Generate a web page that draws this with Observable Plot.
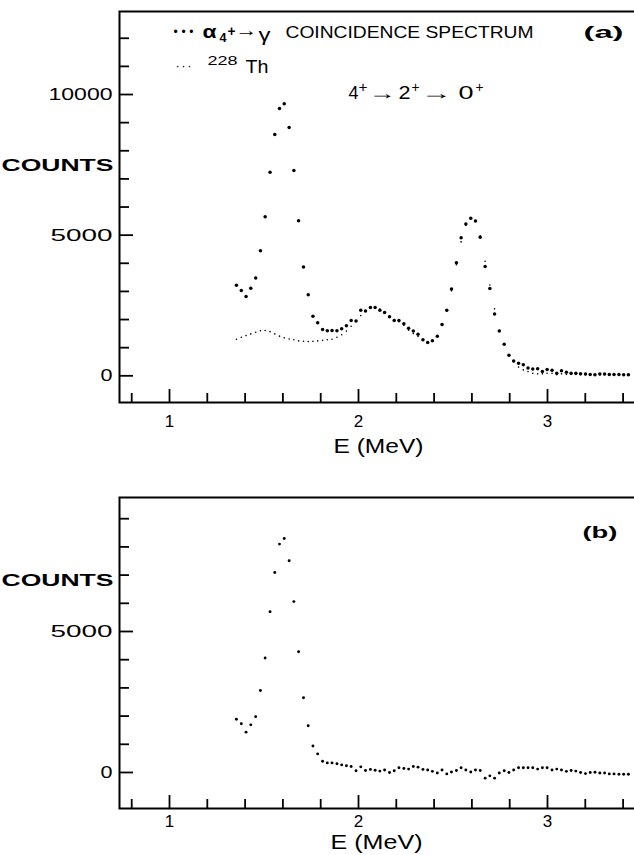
<!DOCTYPE html>
<html><head><meta charset="utf-8">
<script src="https://cdn.jsdelivr.net/npm/d3@7"></script>
<script src="https://cdn.jsdelivr.net/npm/@observablehq/plot@0.6"></script>
<style>
html,body{margin:0;padding:0;background:#fff;}
#chart{width:634px;height:855px;position:relative;overflow:hidden;background:#fff;}
#chart svg{display:block;overflow:hidden;}
</style></head><body><div id="chart"></div>
<script>
// ---------------- DATA ----------------
const energyMeV = [1.354,1.380,1.405,1.430,1.456,1.481,1.506,1.532,1.557,1.582,
 1.607,1.633,1.658,1.683,1.709,1.734,1.759,1.784,1.810,1.835,
 1.860,1.886,1.911,1.936,1.961,1.987,2.012,2.037,2.063,2.088,
 2.113,2.138,2.164,2.189,2.214,2.240,2.265,2.290,2.315,2.341,
 2.366,2.391,2.417,2.442,2.467,2.492,2.518,2.543,2.568,2.594,
 2.619,2.644,2.670,2.695,2.720,2.745,2.771,2.796,2.821,2.847,
 2.872,2.897,2.922,2.948,2.973,2.998,3.024,3.049,3.074,3.100,
 3.125,3.150,3.175,3.201,3.226,3.251,3.277,3.302,3.327,3.352,
 3.378,3.403,3.428];
// (a) alpha(4+)-gamma coincidence spectrum
const coincidenceA = [3220,3030,2820,3110,3480,4450,5650,7240,8580,9500,
 9670,8830,7300,5510,3870,2880,2120,1890,1650,1600,
 1610,1600,1670,1780,1970,1950,2330,2300,2430,2430,
 2330,2250,2100,1970,1970,1850,1690,1590,1480,1280,
 1180,1250,1410,1820,2330,3090,4020,4910,5400,5600,
 5500,4930,3890,3100,2200,1590,1120,730,530,450,
 390,280,240,250,150,220,200,90,180,130,
 90,90,70,60,50,40,60,60,50,50,
 50,40,40];
// (a) 228Th singles spectrum
const thorium228A = [1300,1370,1430,1490,1550,1600,1610,1570,1490,1410,
 1350,1310,1280,1240,1230,1220,1230,1240,1260,1280,
 1300,1370,1460,1590,1760,1950,2140,2300,2400,2430,
 2370,2270,2120,2000,1920,1800,1620,1500,1400,1260,
 1200,1240,1400,1800,2300,3020,3950,4760,5350,5580,
 5500,4980,4070,3230,2380,1620,1120,730,500,310,
 210,150,90,70,70,90,90,40,70,50,
 50,50,40,40,30,30,40,40,30,30,
 30,30,30];
// (b) spectrum
const countsB = [1890,1730,1430,1690,1980,2910,4060,5700,7090,8100,
 8300,7510,6060,4280,2650,1660,940,660,400,340,
 340,310,270,240,210,60,200,70,110,80,
 50,90,0,60,170,140,120,210,190,110,
 90,40,-20,90,-50,20,70,170,90,20,
 90,70,-200,-120,-200,-20,60,0,90,170,
 170,170,170,120,170,170,90,120,90,40,
 70,50,0,-40,0,10,-20,-20,-50,-50,
 -60,-60,-60];

const xTicks = [0.8,1.0,1.2,1.4,1.6,1.8,2.0,2.2,2.4,2.6,2.8,3.0,3.2,3.4];
const xMajorTicks = [1,2,3];
const xTickLabels = ["1","2","3"];
const yTicksA = [0,1000,2000,3000,4000,5000,6000,7000,8000,9000,10000,11000,12000];
const yLabeledA = [0,5000,10000];
const yTicksB = [0,1000,2000,3000,4000,5000,6000,7000,8000,9000];
const yLabeledB = [0,5000];
const yTitle = "COUNTS";
const xTitle = "E (MeV)";
const legendRow1 = ["•••","α","4","+","→","γ","COINCIDENCE SPECTRUM"];
const legendRow2 = ["···","228","Th"];
const transitionText = ["4","+","→","2","+","→","0","+"];
const panelTags = ["(a)","(b)"];

// ---------------- LAYOUT / STYLE ----------------
const FONT = "'Liberation Sans', Arial, Helvetica, sans-serif";
const W = 634, ML = 119, MR = -6;
const xDomain = [0.7354, 3.4921];
const yLabelWidths = {"0": 12, "5000": 62, "10000": 64};

const rowsA = energyMeV.map((E, i) => ({E, coinc: coincidenceA[i], th: thorium228A[i]}));
const rowsB = energyMeV.map((E, i) => ({E, c: countsB[i]}));

function label(text, lay, mt, id) {
  return Plot.text([text], {
    frameAnchor: "top-left", dx: lay.x - ML, dy: lay.y - mt,
    textAnchor: lay.anchor || "start", lineAnchor: "middle",
    fontSize: lay.size, fontWeight: lay.weight || "normal",
    fontFamily: FONT, fill: "black", ariaDescription: id
  });
}

function fit(t, w, adj) {
  t.setAttribute("textLength", w);
  t.setAttribute("lengthAdjust", adj || "spacingAndGlyphs");
}

function panel(cfg) {
  const {H, mt, mb, yDomain, yTicks, yLabeled, countsY, xLabelDy, labels, dataMarks} = cfg;
  const pxE = (W - MR - ML) / (xDomain[1] - xDomain[0]);
  const pxC = (H - mb - mt) / (yDomain[1] - yDomain[0]);
  const x0 = xDomain[0], y0 = yDomain[0];
  const tk = {stroke: "black", strokeWidth: 1.8};
  const marks = [
    Plot.frame({stroke: "black", strokeWidth: 2}),
    Plot.ruleY(yTicks.filter(v => !yLabeled.includes(v)), {y: d => d, x1: x0, x2: x0 + 10 / pxE, ...tk}),
    Plot.ruleY(yLabeled, {y: d => d, x1: x0, x2: x0 + 14 / pxE, ...tk}),
    Plot.ruleX(xTicks.filter(v => !xMajorTicks.includes(v)), {x: d => d, y1: y0, y2: y0 + 9 / pxC, ...tk}),
    Plot.ruleX(xMajorTicks, {x: d => d, y1: y0, y2: y0 + 13 / pxC, ...tk}),
    Plot.text(yLabeled, {x: x0, y: d => d, text: d => String(d), textAnchor: "end", dx: -7,
      fontSize: 17, fontFamily: FONT, fill: "black", ariaDescription: "ylabels"}),
    Plot.text([yTitle], {x: x0, y: countsY, textAnchor: "end", dx: -6,
      fontSize: 17, fontWeight: "bold", fontFamily: FONT, fill: "black", ariaDescription: "ytitle"}),
    Plot.text(xMajorTicks, {x: d => d, y: y0, text: (d, i) => xTickLabels[i], dy: xLabelDy,
      fontSize: 17, fontFamily: FONT, fill: "black", ariaDescription: "xlabels"}),
    ...dataMarks,
    ...labels.map(l => label(l.text, l, mt, l.id))
  ];
  const svg = Plot.plot({
    width: W, height: H, marginLeft: ML, marginRight: MR, marginTop: mt, marginBottom: mb,
    x: {domain: xDomain, axis: null},
    y: {domain: yDomain, axis: null},
    style: {fontFamily: FONT, background: "white", color: "black", overflow: "hidden"},
    marks
  });
  // fit text widths to the reference lettering
  svg.querySelectorAll('g[aria-description="ylabels"] text').forEach(t => {
    const w = yLabelWidths[t.textContent];
    if (w) fit(t, w);
  });
  svg.querySelectorAll('g[aria-description="ytitle"] text').forEach(t => fit(t, 112));
  labels.forEach(l => {
    if (!l.w) return;
    svg.querySelectorAll(`g[aria-description="${l.id}"] text`).forEach(t => fit(t, l.w, l.adj));
  });
  return svg;
}

// label layouts (absolute px inside each panel's svg)
const row1Lay = [
  {x:173, y:32, size:12, w:20, adj:"spacing"},
  {x:202, y:31, size:19, weight:"bold", w:14},
  {x:219, y:38, size:12, weight:"bold", w:7},
  {x:227, y:31, size:15, weight:"bold", w:8},
  {x:235, y:30, size:17, w:22},
  {x:258, y:34, size:19, w:12},
  {x:285, y:32, size:17, w:248}
];
const row2Lay = [
  {x:175, y:65, size:13, w:16, adj:"spacing"},
  {x:207, y:60, size:13, w:30},
  {x:245, y:67, size:18, w:23}
];
const transLay = [
  {x:348, y:93, size:18, w:10},
  {x:358, y:87, size:14, w:9},
  {x:368, y:93, size:18, w:27},
  {x:398, y:93, size:18, w:12},
  {x:411, y:87, size:14, w:8},
  {x:420, y:93, size:18, w:31},
  {x:458, y:93, size:18, w:15},
  {x:475, y:87, size:14, w:8}
];

const labelsA = [
  ...legendRow1.map((t, i) => ({text: t, id: "r1-" + i, ...row1Lay[i]})),
  ...legendRow2.map((t, i) => ({text: t, id: "r2-" + i, ...row2Lay[i]})),
  ...transitionText.map((t, i) => ({text: t, id: "tr-" + i, ...transLay[i]})),
  {text: panelTags[0], id: "tag", x:583, y:32, size:17, weight:"bold", w:40},
  {text: xTitle, id: "xtitle", x:333, y:446, size:21, w:90}
];
const labelsB = [
  {text: panelTags[1], id: "tag", x:582, y:52, size:17, weight:"bold", w:35},
  {text: xTitle, id: "xtitle", x:330, y:362, size:21, w:92}
];

const svgA = panel({
  H: 480, mt: 11, mb: 78, yDomain: [-949, 12951],
  yTicks: yTicksA, yLabeled: yLabeledA, countsY: 7470, xLabelDy: 19,
  labels: labelsA,
  dataMarks: [
    Plot.dot(rowsA, {x: "E", y: "th", r: 0.8, fill: "black", stroke: "none"}),
    Plot.dot(rowsA, {x: "E", y: "coinc", r: 1.75, fill: "black", stroke: "none"})
  ]
});
const svgB = panel({
  H: 375, mt: 17, mb: 47, yDomain: [-1277, 9752],
  yTicks: yTicksB, yLabeled: yLabeledB, countsY: 6790, xLabelDy: 13,
  labels: labelsB,
  dataMarks: [
    Plot.dot(rowsB, {x: "E", y: "c", r: 1.45, fill: "black", stroke: "none"})
  ]
});
const root = document.getElementById("chart");
root.appendChild(svgA);
root.appendChild(svgB);
</script>
</body></html>
